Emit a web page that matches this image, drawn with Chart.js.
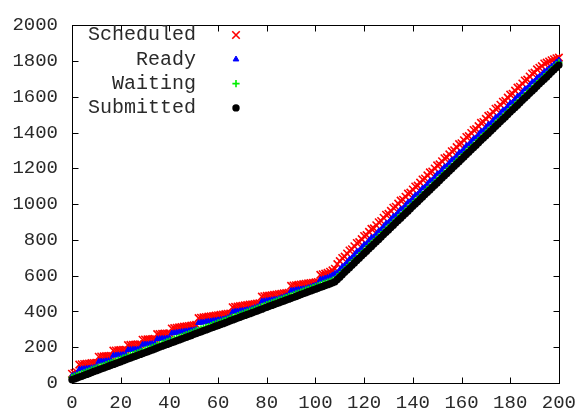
<!DOCTYPE html>
<html><head><meta charset="utf-8">
<script src="https://cdn.jsdelivr.net/npm/chart.js@4"></script>
<style>html,body{margin:0;padding:0;background:#fff}canvas{display:block}</style>
</head><body>
<canvas id="c" width="585" height="414" style="width:585px;height:414px"></canvas>
<script>
const jobs = [
0,1,2,3,4,5,6,7,8,9,10,11,12,13,14,15,16,17,18,19,20,21,22,23,24,25,26,27,28,29,
30,31,32,33,34,35,36,37,38,39,40,41,42,43,44,45,46,47,48,49,50,51,52,53,54,55,56,57,58,59,
60,61,62,63,64,65,66,67,68,69,70,71,72,73,74,75,76,77,78,79,80,81,82,83,84,85,86,87,88,89,
90,91,92,93,94,95,96,97,98,99,100,101,102,103,104,105,106,107,108,109,110,111,112,113,114,115,116,117,118,119,
120,121,122,123,124,125,126,127,128,129,130,131,132,133,134,135,136,137,138,139,140,141,142,143,144,145,146,147,148,149,
150,151,152,153,154,155,156,157,158,159,160,161,162,163,164,165,166,167,168,169,170,171,172,173,174,175,176,177,178,179,
180,181,182,183,184,185,186,187,188,189,190,191,192,193,194,195,196,197,198,199,200];

const scheduled = [
52,56,60,103,105,106,108,109,111,112,
113,147,148,149,150,151,152,181,182,183,
184,185,186,212,213,214,215,216,217,242,
243,244,245,246,247,273,274,275,276,277,
278,305,307,309,311,313,315,317,319,321,
323,325,363,365,367,369,371,373,375,377,
379,381,383,385,387,389,424,426,428,430,
432,434,436,438,440,442,444,446,483,485,
487,489,491,493,495,497,499,501,503,505,
543,545,547,549,551,553,555,557,559,561,
563,565,605,608,612,616,622,630,639,
665,682,699,707,724,741,748,765,783,788,
805,822,827,845,862,865,882,899,906,924,
941,946,963,980,986,1003,1020,1025,1042,1059,
1065,1082,1099,1104,1121,1138,1144,1161,1178,1183,
1200,1217,1223,1240,1257,1262,1279,1296,1302,1319,
1336,1341,1358,1376,1381,1398,1415,1420,1437,1455,
1460,1477,1494,1499,1516,1534,1539,1556,1573,1578,
1596,1613,1618,1635,1652,1657,1675,1692,1697,1714,
1731,1736,1754,1763,1772,1787,1792,1798,1805,1811,
1816,1820];

const ready = [
40,45,50,76,78,79,81,82,84,86,
91,120,121,122,123,124,125,154,155,156,
157,158,159,185,186,187,188,189,190,215,
216,217,218,219,220,246,247,248,249,250,
251,278,280,282,284,286,288,290,292,294,
296,299,336,338,340,342,344,346,348,350,
352,354,356,359,364,370,397,399,401,403,
405,407,409,411,415,420,425,430,456,458,
460,462,464,466,468,471,476,481,486,491,
516,518,520,522,524,526,528,532,537,542,
547,552,578,581,585,589,595,603,612,
616,633,650,658,675,692,699,716,734,739,
756,773,778,796,813,816,833,850,857,875,
892,897,914,931,937,954,971,976,993,1010,
1016,1033,1050,1055,1072,1089,1095,1112,1129,1134,
1151,1168,1174,1191,1208,1213,1230,1247,1253,1270,
1287,1292,1309,1327,1332,1349,1366,1371,1388,1406,
1411,1428,1445,1450,1467,1485,1490,1507,1524,1529,
1547,1564,1569,1586,1603,1608,1626,1643,1648,1665,
1682,1687,1705,1714,1723,1740,1747,1758,1770,1781,
1794,1805];

const waiting = [
32,37,42,47,52,57,62,67,73,78,
83,88,93,98,103,108,113,118,123,128,
133,139,144,149,154,159,164,169,174,179,
184,189,194,199,204,210,215,220,225,230,
235,240,245,250,255,260,265,270,275,280,
286,291,296,301,306,311,316,321,326,331,
336,341,346,351,356,362,367,372,377,382,
387,392,397,402,407,412,417,422,427,433,
438,443,448,453,458,463,468,473,478,483,
488,493,498,503,509,514,519,524,529,534,
539,544,549,554,559,564,569,574,580,
593,606,619,633,646,659,672,685,699,712,
725,738,751,765,778,791,804,817,830,844,
857,870,883,896,910,923,936,949,962,975,
989,1002,1015,1028,1041,1054,1068,1081,1094,1107,
1120,1133,1147,1160,1173,1186,1199,1212,1226,1239,
1252,1265,1278,1292,1305,1318,1331,1344,1357,1371,
1384,1397,1410,1423,1436,1450,1463,1476,1489,1502,
1516,1529,1542,1555,1568,1581,1595,1608,1621,1634,
1647,1660,1674,1687,1700,1713,1726,1739,1753,1766,
1779,1792];

const submitted = [
18,23,28,33,38,43,48,53,59,64,
69,74,79,84,89,94,99,104,109,114,
119,125,130,135,140,145,150,155,160,165,
170,175,180,185,190,196,201,206,211,216,
221,226,231,236,241,246,251,256,261,266,
272,277,282,287,292,297,302,307,312,317,
322,327,332,337,342,348,353,358,363,368,
373,378,383,388,393,398,403,408,413,419,
424,429,434,439,444,449,454,459,464,469,
474,479,484,489,495,500,505,510,515,520,
525,530,535,540,545,550,555,560,566,
579,592,605,619,632,645,658,671,685,698,
711,724,737,751,764,777,790,803,816,830,
843,856,869,882,896,909,922,935,948,961,
975,988,1001,1014,1027,1040,1054,1067,1080,1093,
1106,1119,1133,1146,1159,1172,1185,1198,1212,1225,
1238,1251,1264,1278,1291,1304,1317,1330,1343,1357,
1370,1383,1396,1409,1422,1436,1449,1462,1475,1488,
1502,1515,1528,1541,1554,1567,1581,1594,1607,1620,
1633,1646,1660,1673,1686,1699,1712,1725,1739,1752,
1765,1778];

const seriesNames = ['Scheduled', 'Ready', 'Waiting', 'Submitted'];
const seriesValues = [scheduled, ready, waiting, submitted];
const xRange = [0, 200];
const yRange = [0, 2000];
const xStep = 20;
const yStep = 200;

const styles = [
  {color: '#ff0000', pointStyle: 'crossRot', radius: 5.3, borderWidth: 1.6},
  {color: '#0000ff', pointStyle: 'triangle', radius: 3.3, borderWidth: 1},
  {color: '#00ee00', pointStyle: 'cross', radius: 3.6, borderWidth: 1.6},
  {color: '#000000', pointStyle: 'circle', radius: 3.7, borderWidth: 0}
];

const FONT = "'Liberation Mono', 'DejaVu Sans Mono', monospace";
const TEXT = '#2a2a2a';

const datasets = seriesNames.map((name, k) => ({
  label: name,
  data: seriesValues[k].map((v, i) => ({x: jobs[i], y: v})),
  showLine: false,
  pointStyle: styles[k].pointStyle,
  pointRadius: styles[k].radius,
  pointBorderWidth: styles[k].borderWidth,
  pointBackgroundColor: styles[k].color,
  pointBorderColor: styles[k].color,
  clip: false,
  order: 4 - k
}));

const framePlugin = {
  id: 'frame',
  beforeDatasetsDraw(chart) {
    const {ctx, chartArea: a, scales} = chart;
    ctx.save();
    ctx.strokeStyle = '#000';
    ctx.lineWidth = 1;
    const L = Math.round(a.left) + 0.5, R = Math.round(a.right) + 0.5;
    const T = Math.round(a.top) + 0.5, B = Math.round(a.bottom) + 0.5;
    ctx.beginPath();
    const tl = 6;
    scales.x.ticks.forEach((t, i) => {
      const px = Math.round(scales.x.getPixelForTick(i)) + 0.5;
      ctx.moveTo(px, B); ctx.lineTo(px, B - tl);
      ctx.moveTo(px, T); ctx.lineTo(px, T + tl);
    });
    scales.y.ticks.forEach((t, i) => {
      const py = Math.round(scales.y.getPixelForTick(i)) + 0.5;
      ctx.moveTo(L, py); ctx.lineTo(L + tl, py);
      ctx.moveTo(R, py); ctx.lineTo(R - tl, py);
    });
    ctx.stroke();
    ctx.strokeRect(L, T, R - L, B - T);
    ctx.restore();
  }
};

const legendPlugin = {
  id: 'keyLegend',
  afterDraw(chart) {
    const {ctx} = chart;
    ctx.save();
    ctx.font = '20px ' + FONT;
    ctx.textAlign = 'right';
    ctx.textBaseline = 'middle';
    const textRight = 196, markX = 236, y0 = 35, dy = 24.3;
    seriesNames.forEach((name, k) => {
      const y = y0 + k * dy;
      ctx.fillStyle = TEXT;
      ctx.fillText(name, textRight, y);
      ctx.fillStyle = styles[k].color;
      ctx.strokeStyle = styles[k].color;
      ctx.lineWidth = styles[k].borderWidth;
      Chart.helpers.drawPoint(ctx, {
        pointStyle: styles[k].pointStyle,
        radius: styles[k].radius,
        borderWidth: styles[k].borderWidth,
        rotation: 0
      }, markX, y);
    });
    ctx.restore();
  }
};

const plainLabel = v => String(v);

new Chart(document.getElementById('c'), {
  type: 'scatter',
  data: {datasets},
  options: {
    responsive: false,
    animation: false,
    events: [],
    layout: {padding: {top: 16, right: 25, left: 0, bottom: 0}},
    plugins: {legend: {display: false}, tooltip: {enabled: false}},
    scales: {
      x: {
        type: 'linear', min: xRange[0], max: xRange[1],
        grid: {display: false, drawTicks: false},
        border: {display: false},
        ticks: {stepSize: xStep, padding: 9, color: TEXT, font: {family: FONT, size: 19}, maxRotation: 0, callback: plainLabel},
        afterFit(s) { s.height = 31; }
      },
      y: {
        type: 'linear', min: yRange[0], max: yRange[1],
        grid: {display: false, drawTicks: false},
        border: {display: false},
        ticks: {stepSize: yStep, padding: 14, color: TEXT, font: {family: FONT, size: 19}, callback: plainLabel},
        afterFit(s) { s.width = 72; }
      }
    }
  },
  plugins: [framePlugin, legendPlugin]
});
</script>
</body></html>
